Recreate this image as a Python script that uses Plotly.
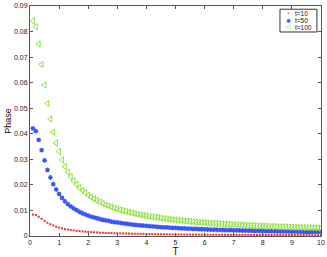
import plotly.graph_objects as go

T = [round(0.1 * i, 1) for i in range(1, 101)]

phase_t100 = [
    0.0842, 0.0819, 0.0751, 0.0671, 0.0591, 0.0518, 0.0458, 0.0406, 0.0364, 0.0330,
    0.0298, 0.0272, 0.0250, 0.0232, 0.0216, 0.0202, 0.0189, 0.0178, 0.0169, 0.0160,
    0.0152, 0.0145, 0.0139, 0.0133, 0.0127, 0.0122, 0.0118, 0.0113, 0.0109, 0.0106,
    0.0102, 0.0099, 0.0096, 0.0093, 0.0090, 0.0088, 0.0085, 0.0083, 0.0081, 0.0079,
    0.0077, 0.0075, 0.0073, 0.0072, 0.0070, 0.0068, 0.0067, 0.0065, 0.0064, 0.0063,
    0.0062, 0.0060, 0.0059, 0.0058, 0.0057, 0.0056, 0.0055, 0.0054, 0.0053, 0.0052,
    0.0051, 0.00505, 0.00497, 0.0049, 0.0048, 0.0047, 0.00467, 0.0046, 0.00453, 0.00447,
    0.00441, 0.00435, 0.00429, 0.00423, 0.00417, 0.00411, 0.00406, 0.00401, 0.00396, 0.00391,
    0.00386, 0.00381, 0.00376, 0.00372, 0.00367, 0.00363, 0.00359, 0.00355, 0.00351, 0.00347,
    0.00343, 0.00339, 0.00336, 0.00332, 0.00329, 0.00325, 0.00322, 0.00318, 0.00315, 0.00312,
]

phase_t50 = [
    0.0421, 0.0410, 0.0376, 0.0336, 0.0296, 0.0259, 0.0229, 0.0203, 0.0182, 0.0165,
    0.0149, 0.0136, 0.0125, 0.0116, 0.0108, 0.0101, 0.00945, 0.0089, 0.00845, 0.0080,
    0.0076, 0.00725, 0.00695, 0.00665, 0.00635, 0.0061, 0.0059, 0.00565, 0.00545, 0.0053,
    0.0051, 0.00495, 0.0048, 0.00465, 0.0045, 0.0044, 0.00425, 0.00415, 0.00405, 0.00395,
    0.00385, 0.00375, 0.00365, 0.0036, 0.0035, 0.0034, 0.00335, 0.00325, 0.0032, 0.00315,
    0.0031, 0.0030, 0.00295, 0.0029, 0.00285, 0.0028, 0.00275, 0.0027, 0.00265, 0.0026,
    0.00255, 0.00253, 0.00249, 0.00245, 0.0024, 0.00235, 0.00234, 0.0023, 0.00227, 0.00224,
    0.00221, 0.00218, 0.00215, 0.00212, 0.00209, 0.00206, 0.00203, 0.00201, 0.00198, 0.00196,
    0.00193, 0.00191, 0.00188, 0.00186, 0.00184, 0.00182, 0.0018, 0.00178, 0.00176, 0.00174,
    0.00172, 0.0017, 0.00168, 0.00166, 0.00165, 0.00163, 0.00161, 0.00159, 0.00158, 0.00156,
]

phase_t10 = [
    0.0084, 0.0082, 0.0075, 0.0067, 0.0059, 0.0052, 0.0046, 0.0041, 0.0036, 0.0033,
    0.0030, 0.0027, 0.0025, 0.0023, 0.0022, 0.0020, 0.0019, 0.0018, 0.0017, 0.0016,
    0.0015, 0.00145, 0.0014, 0.0013, 0.00127, 0.00122, 0.00118, 0.00113, 0.00109, 0.00106,
    0.00102, 0.00099, 0.00096, 0.00093, 0.0009, 0.00088, 0.00085, 0.00083, 0.00081, 0.00079,
    0.00077, 0.00075, 0.00073, 0.00072, 0.0007, 0.00068, 0.00067, 0.00065, 0.00064, 0.00063,
    0.00062, 0.0006, 0.00059, 0.00058, 0.00057, 0.00056, 0.00055, 0.00054, 0.00053, 0.00052,
    0.00051, 0.00051, 0.0005, 0.00049, 0.00048, 0.00047, 0.00047, 0.00046, 0.00045, 0.00045,
    0.00044, 0.00044, 0.00043, 0.00042, 0.00042, 0.00041, 0.00041, 0.0004, 0.0004, 0.00039,
    0.00039, 0.00038, 0.00038, 0.00037, 0.00037, 0.00036, 0.00036, 0.00036, 0.00035, 0.00035,
    0.00034, 0.00034, 0.00034, 0.00033, 0.00033, 0.00033, 0.00032, 0.00032, 0.00032, 0.00031,
]

series_names = ["t=10", "t=50", "t=100"]
series_colors = ["#ff2a2a", "#3a55ff", "#8ee03a"]
legend_glyphs = ["\u2022", "\u2731", "\u25c1"]
y_ticks = [0, 0.01, 0.02, 0.03, 0.04, 0.05, 0.06, 0.07, 0.08, 0.09]
x_ticks = [0, 1, 2, 3, 4, 5, 6, 7, 8, 9, 10]

fig = go.Figure()
fig.add_trace(go.Scatter(
    x=T, y=phase_t10, mode="markers", name=series_names[0], showlegend=False,
    marker=dict(symbol="square", size=2, color=series_colors[0], line=dict(width=0)),
))
fig.add_trace(go.Scatter(
    x=T, y=phase_t50, mode="markers", name=series_names[1], showlegend=False,
    marker=dict(symbol="asterisk", size=4, color=series_colors[1],
                line=dict(width=1.2, color=series_colors[1])),
))
fig.add_trace(go.Scatter(
    x=T, y=phase_t100, mode="markers", name=series_names[2], showlegend=False,
    marker=dict(symbol="triangle-left-open", size=5.5, color=series_colors[2],
                line=dict(width=1, color=series_colors[2])),
))

axis_common = dict(
    showline=True, mirror="ticks", linecolor="#555555", linewidth=1,
    ticks="inside", ticklen=3, tickcolor="#555555", showgrid=False, zeroline=False,
    tickfont=dict(size=7, color="#222222"), automargin=False,
)

# compact MATLAB-style legend box
fig.add_shape(type="rect", xref="paper", yref="paper",
              x0=0.859, x1=0.986, y0=0.887, y1=0.986,
              line=dict(color="#333333", width=1), fillcolor="white", layer="above")
legend_y = [0.968, 0.938, 0.907]
glyph_sizes = [5, 6, 7]
for name, col, glyph, gs, ly in zip(series_names, series_colors, legend_glyphs,
                                    glyph_sizes, legend_y):
    fig.add_annotation(xref="paper", yref="paper", x=0.887, y=ly, text=glyph,
                       showarrow=False, font=dict(size=gs, color=col,
                       family="DejaVu Sans"), xanchor="center", yanchor="middle")
    fig.add_annotation(xref="paper", yref="paper", x=0.905, y=ly, text=name,
                       showarrow=False, font=dict(size=6.5, color="#111111"),
                       xanchor="left", yanchor="middle")

fig.update_layout(
    width=327, height=257,
    margin=dict(l=30, r=6, t=6, b=21),
    paper_bgcolor="white", plot_bgcolor="white",
    font=dict(family="Liberation Sans, Arial, sans-serif", color="#111111"),
    showlegend=False,
    xaxis=dict(range=[0, 10], tickvals=x_ticks, ticktext=[str(v) for v in x_ticks],
               title=dict(text="T", font=dict(size=10), standoff=0), **axis_common),
    yaxis=dict(range=[0, 0.09], tickvals=y_ticks,
               ticktext=["0"] + ["%.2f" % v for v in y_ticks[1:]],
               title=dict(text="Phase", font=dict(size=9), standoff=0), **axis_common),
)

fig.write_html("out.html", config={"displayModeBar": False},
               post_script="document.body.style.margin='0';")
